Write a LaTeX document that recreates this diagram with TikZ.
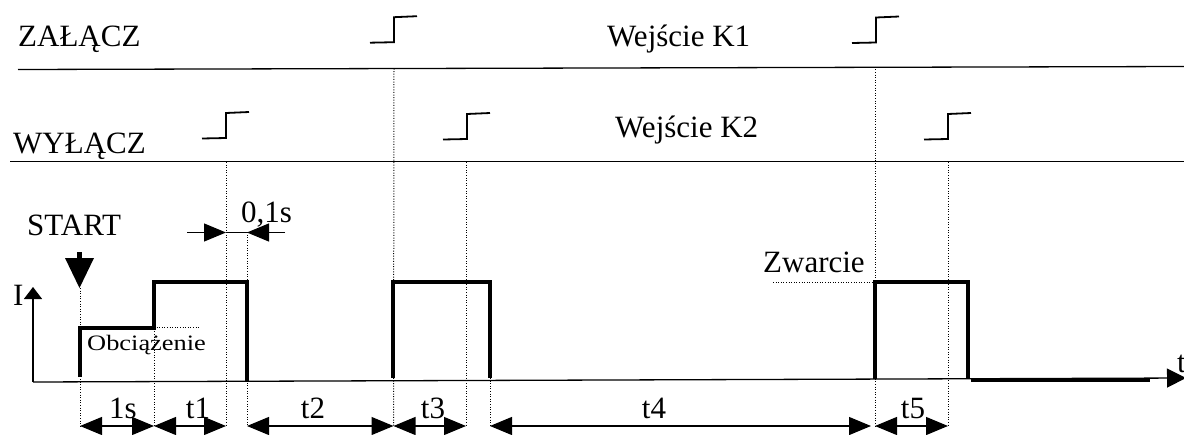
\documentclass[tikz,border=0pt]{standalone}
\usepackage{fontspec}
\setmainfont{Liberation Serif}
\usetikzlibrary{arrows.meta}
\tikzset{
  sig/.style={line width=1.3pt},
  wave/.style={line width=4pt, line join=miter},
  dots/.style={line width=1pt, dash pattern=on 1pt off 1.6pt},
  stepglyph/.style={line width=1.8pt},
  dimarrow/.style={line width=1.2pt, {Triangle[length=22pt,width=18pt]}-{Triangle[length=22pt,width=18pt]}},
  onehead/.style={line width=1.2pt, -{Triangle[length=22pt,width=18pt]}},
  lbl/.style={inner sep=0pt, anchor=base west, font=\fontsize{31}{31}\selectfont},
  clbl/.style={inner sep=0pt, anchor=base, font=\fontsize{31}{31}\selectfont},
  stepsym/.pic={\draw[stepglyph] (-24,0.5) -- (0,0) -- (0,-25) -- (23,-26);}
}
\begin{document}
\begin{tikzpicture}[x=1pt,y=-1pt]
\useasboundingbox (0,0) rectangle (1184,434);

% signal lines
\coordinate (zl) at (18,69.5);  \coordinate (zr) at (1184,66.5);
\coordinate (wl) at (10,161.7); \coordinate (wr) at (1184,161.7);
\draw[sig] (zl) -- (zr);
\draw[sig] (wl) -- (wr);

% labels
\node[lbl] (zal) at (18,46.7) {ZAŁĄCZ};
\node[lbl] (wyl) at (13,153) {WYŁĄCZ};
\node[lbl] (k1) at (607,46.7) {Wejście K1};
\node[lbl] (k2) at (615,137) {Wejście K2};
\node[lbl] (start) at (27,235) {START};
\node[lbl] (ilab) at (13,305) {I};
\node[lbl] (tlab) at (1177,372) {t};
\node[lbl] (tenth) at (241,222) {0,1s};
\node[lbl] (zw) at (763,272) {Zwarcie};
\node[inner sep=0pt, anchor=base west, font=\fontsize{22}{22}\selectfont] (obc) at (87,350) {\scalebox{1.2}[1]{Obciążenie}};

% step glyphs
\pic at (394,42.2) {stepsym};
\pic at (876,42.5) {stepsym};
\pic at (226,138) {stepsym};
\pic at (467,139) {stepsym};
\pic at (948,139) {stepsym};

% key coordinates
\coordinate (o) at (33,382);
\coordinate (iend) at (33,287);
\coordinate (tend) at (1186,378);
\coordinate (b0) at (80,426);
\coordinate (b1) at (154,426);
\coordinate (b2) at (226,426);
\coordinate (b3) at (247,426);
\coordinate (b4) at (393.5,426);
\coordinate (b5) at (466,426);
\coordinate (b6) at (490,426);
\coordinate (b7a) at (871,426);
\coordinate (b7) at (875,426);
\coordinate (b8) at (948,426);

% dotted guide lines
\draw[dots] (394,68.5) -- (b4);
\draw[dots] (875,66.8) -- (b7);
\draw[dots] (226,162) -- (b2);
\draw[dots] (466,162) -- (b5);
\draw[dots] (948,162) -- (b8);
\draw[dots] (80,288) -- (b0);
\draw[dots] (154,282) -- (b1);
\draw[dots] (247,232) -- (b3);
\draw[dots] (490,378) -- (b6);
\draw[dots] (154,327) -- (199,327);
\draw[dots] (773,282) -- (875,282);

% axes
\draw[sig, -{Triangle[length=12pt,width=18pt]}] (o) -- (iend);
\draw[sig, -{Triangle[length=19pt,width=19pt]}] (o) -- (tend);

% START arrow
\draw[line width=5pt] (79.5,252) -- (79.5,259);
\fill (65,258) -- (94,258) -- (79.5,288) -- cycle;

% waveform
\draw[wave] (80,377) -- (80,328) -- (154,328) -- (154,282) -- (247,282) -- (247,381);
\draw[wave] (393,378) -- (393,282) -- (490,282) -- (490,378);
\draw[wave] (875,379) -- (875,282) -- (968,282) -- (968,379);
\draw[line width=3.5pt] (971,380.5) -- (1150,380.5);

% 0,1s arrows
\coordinate (pa) at (187,232.5);
\coordinate (pb) at (226,232.5);
\coordinate (pc) at (247,232.5);
\coordinate (pd) at (285,232.5);
\draw[onehead] (pa) -- (pb);
\draw[onehead] (pd) -- (pc);
\draw[line width=1.2pt] (pb) -- (pc);

% dimension arrows
\draw[dimarrow] (b0) -- (b1);
\draw[dimarrow] (b1) -- (b2);
\draw[dimarrow] (b3) -- (b4);
\draw[dimarrow] (b4) -- (b5);
\draw[dimarrow] (b6) -- (b7a);
\draw[dimarrow] (b7) -- (b8);

% dimension labels
\node[clbl] (l1) at (123,418) {1s};
\node[clbl] (l2) at (198,418) {t1};
\node[clbl] (l3) at (313,418) {t2};
\node[clbl] (l4) at (433,418) {t3};
\node[clbl] (l5) at (654,418) {t4};
\node[clbl] (l6) at (913,418) {t5};
\end{tikzpicture}
\end{document}
